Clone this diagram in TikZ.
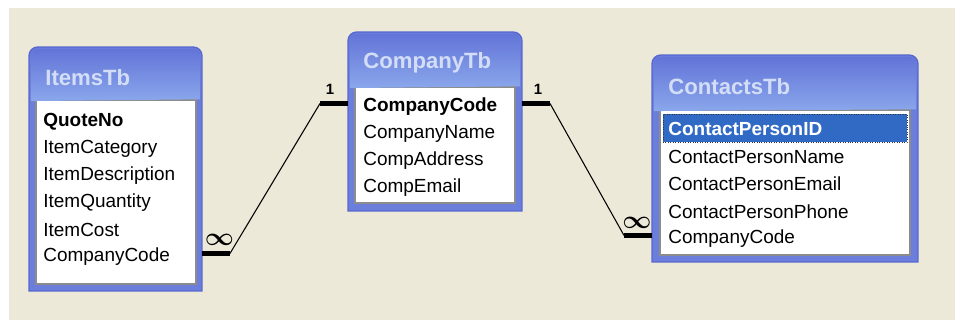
\documentclass[tikz,border=0pt]{standalone}
\usepackage{fontspec}
\setmainfont{Liberation Sans}
\usepackage{amsmath}
\usetikzlibrary{positioning}

\definecolor{bgbeige}{HTML}{ECE9D8}
\definecolor{framefill}{HTML}{6C7EDC}
\definecolor{frameedge}{HTML}{5767CF}
\definecolor{titletop}{HTML}{6374D8}
\definecolor{titlebot}{HTML}{8AA7EB}
\definecolor{titletext}{HTML}{D3DEF6}
\definecolor{listedge}{HTML}{8C8C8C}
\definecolor{selblue}{HTML}{316AC5}

\tikzset{
  tblbox/.style={inner sep=0pt, outer sep=0pt},
  tblframe/.style={fill=framefill, draw=frameedge, line width=0.8pt},
  tbltitle/.style={anchor=west, inner sep=0pt, text=titletext, font=\fontsize{12.6}{14}\selectfont\bfseries},
  listbox/.style={fill=white, draw=listedge, line width=0.8pt, inner sep=0pt},
  field/.style={anchor=west, inner sep=0pt, font=\fontsize{10.8}{12}\selectfont},
  keyfield/.style={field, font=\fontsize{10.8}{12}\selectfont\bfseries},
  selbar/.style={fill=selblue, draw=black!80, densely dotted, inner sep=0pt},
  stub/.style={line width=2.3pt},
  link/.style={line width=0.6pt},
  card/.style={inner sep=0pt, font=\fontsize{8.5}{9}\selectfont\bfseries},
  many/.style={inner sep=0pt, font=\boldmath\fontsize{15}{15}\selectfont}
}

\begin{document}
\begin{tikzpicture}[x=0.02cm, y=-0.02cm]
\useasboundingbox (0,0) rectangle (955,320);
\fill[bgbeige] (9,8) rectangle (955,320);

% ItemsTb
\node[tblbox, minimum width=3.46cm, minimum height=4.88cm] (items) at (115.5,169) {};
\path[tblframe] (items.south west) [rounded corners=5pt] -- (items.north west) -- (items.north east) [sharp corners] -- (items.south east) -- cycle;
\node[listbox, minimum width=3.2cm, minimum height=3.68cm] (itemlist) at (116,192) {};
\path[top color=titletop, bottom color=titlebot] ([shift={(1pt,-1pt)}]items.west |- itemlist.north) [rounded corners=4pt] -- ([shift={(1pt,-1pt)}]items.north west) -- ([shift={(-1pt,-1pt)}]items.north east) [sharp corners] -- ([xshift=-1pt]items.east |- itemlist.north) -- cycle;
\node[tbltitle] (itemtitle) at (45,78) {ItemsTb};
\node[keyfield] (it1) at (43,122) {QuoteNo};
\node[field] (it2) at (43,149) {ItemCategory};
\node[field] (it3) at (43,176) {ItemDescription};
\node[field] (it4) at (43,203) {ItemQuantity};
\node[field] (it5) at (43,230) {ItemCost};
\node[field] (it6) at (43,257) {CompanyCode};

% CompanyTb
\node[tblbox, minimum width=3.48cm, minimum height=3.58cm] (company) at (435,121.5) {};
\path[tblframe] (company.south west) [rounded corners=5pt] -- (company.north west) -- (company.north east) [sharp corners] -- (company.south east) -- cycle;
\node[listbox, minimum width=3.2cm, minimum height=2.32cm] (complist) at (435,145) {};
\path[top color=titletop, bottom color=titlebot] ([shift={(1pt,-1pt)}]company.west |- complist.north) [rounded corners=4pt] -- ([shift={(1pt,-1pt)}]company.north west) -- ([shift={(-1pt,-1pt)}]company.north east) [sharp corners] -- ([xshift=-1pt]company.east |- complist.north) -- cycle;
\node[tbltitle] (comptitle) at (363,63) {CompanyTb};
\node[keyfield] (cc1) at (363,107) {CompanyCode};
\node[field] (cc2) at (363,134) {CompanyName};
\node[field] (cc3) at (363,161) {CompAddress};
\node[field] (cc4) at (363,188) {CompEmail};

% ContactsTb
\node[tblbox, minimum width=5.32cm, minimum height=4.14cm] (contacts) at (785,158.5) {};
\path[tblframe] (contacts.south west) [rounded corners=5pt] -- (contacts.north west) -- (contacts.north east) [sharp corners] -- (contacts.south east) -- cycle;
\node[listbox, minimum width=5.0cm, minimum height=2.9cm] (contlist) at (785,182.5) {};
\path[top color=titletop, bottom color=titlebot] ([shift={(1pt,-1pt)}]contacts.west |- contlist.north) [rounded corners=4pt] -- ([shift={(1pt,-1pt)}]contacts.north west) -- ([shift={(-1pt,-1pt)}]contacts.north east) [sharp corners] -- ([xshift=-1pt]contacts.east |- contlist.north) -- cycle;
\node[tbltitle] (conttitle) at (668,87) {ContactsTb};
\node[selbar, minimum width=4.88cm, minimum height=0.56cm] (sel) at (785,128) {};
\node[keyfield, text=white] (cp1) at (668,129) {ContactPersonID};
\node[field] (cp2) at (668,156.5) {ContactPersonName};
\node[field] (cp3) at (668,184) {ContactPersonEmail};
\node[field] (cp4) at (668,211.5) {ContactPersonPhone};
\node[field] (cp5) at (668,239) {CompanyCode};

% relationships
\draw[stub] ([yshift=2pt]items.east |- it6) -- ++(28,0) coordinate (a1);
\draw[stub] ([yshift=2pt]company.west |- cc1) -- ++(-28,0) coordinate (a2);
\draw[link] (a1) -- (a2);
\node[many] (m1) at (219.5,240) {$\infty$};
\node[card] (o1) at (330,89) {1};

\draw[stub] ([yshift=2pt]company.east |- cc1) -- ++(28,0) coordinate (b1);
\draw[stub] ([yshift=2pt]contacts.west |- cp5) -- ++(-28,0) coordinate (b2);
\draw[link] (b1) -- (b2);
\node[card] (o2) at (538,89) {1};
\node[many] (m2) at (637,223) {$\infty$};
\end{tikzpicture}
\end{document}
